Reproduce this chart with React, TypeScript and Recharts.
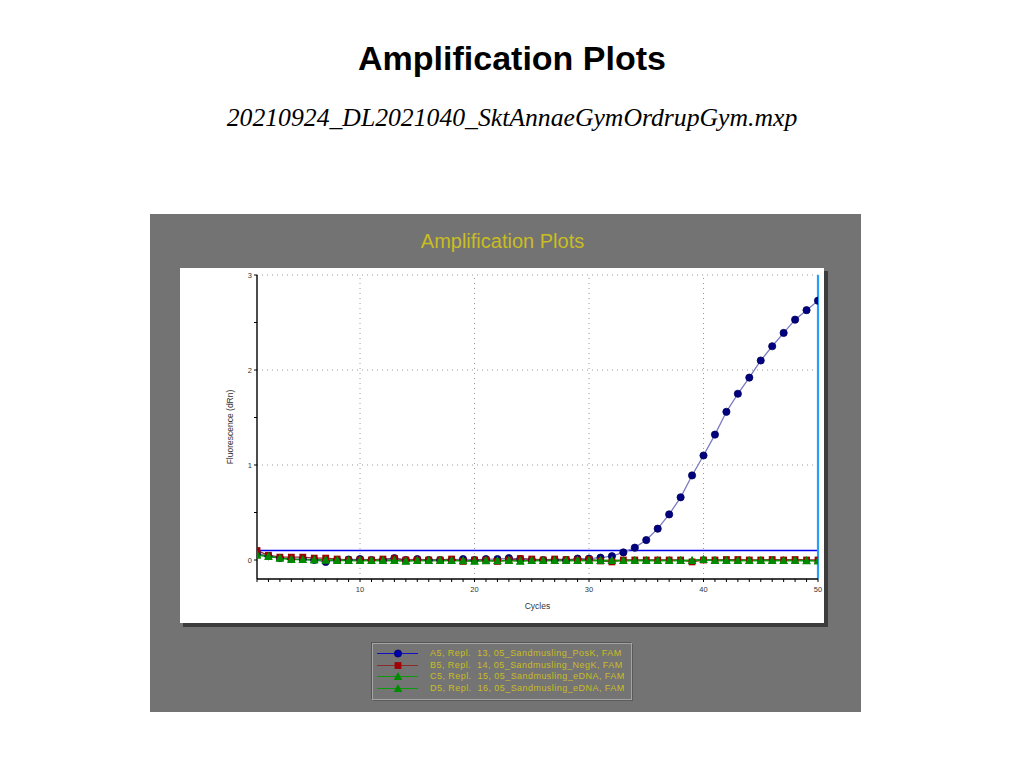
import React from "react";
import { LineChart, Line, XAxis, YAxis, ReferenceLine } from "recharts";

// Amplification plot: ΔRn per cycle for four wells

const cycles = [
  1, 2, 3, 4, 5, 6, 7, 8, 9, 10, 11, 12, 13, 14, 15, 16, 17, 18, 19, 20, 21, 22, 23, 24, 25,
  26, 27, 28, 29, 30, 31, 32, 33, 34, 35, 36, 37, 38, 39, 40, 41, 42, 43, 44, 45, 46, 47, 48, 49, 50,
];

const a5PosK = [
  0.07, 0.04, 0.02, 0.01, 0.01, 0.0, -0.02, 0.0, 0.005, 0.01, 0.0, 0.0, 0.02, 0.0, 0.01, 0.0, 0.0,
  0.0, 0.01, 0.0, 0.01, 0.01, 0.02, 0.01, 0.0, 0.0, 0.0, 0.0, 0.015, 0.015, 0.025, 0.04, 0.08, 0.13,
  0.21, 0.33, 0.48, 0.66, 0.89, 1.1, 1.32, 1.56, 1.75, 1.92, 2.1, 2.25, 2.39, 2.53, 2.63, 2.73,
];

const b5NegK = [
  0.1, 0.05, 0.03, 0.03, 0.03, 0.02, 0.02, 0.01, 0.0, 0.0, 0.0, 0.01, 0.015, 0.0, 0.0, 0.0, 0.0,
  0.01, -0.015, 0.0, 0.0, -0.015, 0.0, 0.015, 0.01, 0.0, 0.01, 0.005, 0.0, 0.005, -0.01, -0.02, 0.0,
  0.0, 0.0, 0.0, 0.0, 0.0, -0.02, 0.0, 0.0, 0.005, 0.005, 0.0, 0.0, 0.005, 0.0, 0.005, 0.0, 0.0,
];

const c5Edna = [
  0.06, 0.04, 0.02, 0.005, 0.005, 0.005, 0.0, 0.0, -0.005, -0.005, -0.005, -0.005, -0.005, -0.015,
  -0.005, -0.005, -0.005, -0.005, -0.01, -0.015, -0.01, -0.01, -0.005, -0.015, -0.005, -0.005,
  -0.005, -0.005, -0.005, -0.005, -0.005, -0.005, -0.005, -0.005, -0.005, -0.005, -0.005, -0.005,
  -0.005, 0.01, -0.005, -0.005, -0.005, -0.005, -0.005, -0.005, -0.005, -0.005, -0.01, -0.01,
];

const d5Edna = [
  0.05, 0.035, 0.02, 0.01, 0.005, 0.0, 0.0, -0.005, -0.005, -0.005, -0.005, -0.005, -0.005, -0.01,
  -0.005, -0.005, -0.005, -0.005, -0.005, -0.01, -0.005, -0.005, -0.005, -0.01, -0.005, -0.005,
  -0.005, -0.005, -0.005, -0.005, -0.005, -0.005, -0.005, -0.005, -0.005, -0.005, -0.005, -0.005,
  -0.005, 0.005, -0.005, -0.005, -0.005, -0.005, -0.005, -0.005, -0.005, -0.005, -0.005, -0.01,
];

const xTicks = cycles;
const xLabelled = [10, 20, 30, 40, 50];
const yTicks = [0, 0.5, 1, 1.5, 2, 2.5, 3];
const yLabelled = [0, 1, 2, 3];
const gridX = [10, 20, 30, 40];
const gridY = [1, 2, 3];
const threshold = 0.1;
const cursorCycle = 50;

const series = [
  { key: "a5", name: "A5, Repl.  13, 05_Sandmusling_PosK, FAM", line: "#7b7bc2", mark: "#000080", shape: "circle" },
  { key: "b5", name: "B5, Repl.  14, 05_Sandmusling_NegK, FAM", line: "#8e2a2a", mark: "#a00000", shape: "square" },
  { key: "c5", name: "C5, Repl.  15, 05_Sandmusling_eDNA, FAM", line: "#0a9a0a", mark: "#008a00", shape: "triangle" },
  { key: "d5", name: "D5, Repl.  16, 05_Sandmusling_eDNA, FAM", line: "#0a9a0a", mark: "#008a00", shape: "triangle" },
];

const data = cycles.map((c, i) => ({
  cycle: c,
  a5: a5PosK[i],
  b5: b5NegK[i],
  c5: c5Edna[i],
  d5: d5Edna[i],
}));

const YELLOW = "#c9bd22";
const SANS = "'Liberation Sans', Arial, sans-serif";

function Marker({ shape, color, cx, cy }: { shape: string; color: string; cx: number; cy: number }) {
  if (shape === "circle") return <circle cx={cx} cy={cy} r={3.6} fill={color} stroke="#00005a" strokeWidth={0.8} />;
  if (shape === "square") return <rect x={cx - 3.4} y={cy - 3.4} width={6.8} height={6.8} fill={color} />;
  return <polygon points={`${cx},${cy - 4.4} ${cx + 4.2},${cy + 3.4} ${cx - 4.2},${cy + 3.4}`} fill={color} />;
}

const makeDot = (shape: string, color: string) => (p: any) => {
  if (p.cx == null || p.cy == null) return <g key={p.key} />;
  return (
    <g key={p.key}>
      <Marker shape={shape} color={color} cx={p.cx} cy={p.cy} />
    </g>
  );
};

const XTick = (p: any) => {
  const v = p.payload.value;
  if (!xLabelled.includes(v)) return <g />;
  return (
    <text x={p.x} y={p.y + 8} textAnchor="middle" fontSize={7.5} fill="#333" fontFamily={SANS}>
      {v}
    </text>
  );
};

const YTick = (p: any) => {
  const v = p.payload.value;
  if (!yLabelled.includes(v)) return <g />;
  return (
    <text x={p.x} y={p.y + 2.5} textAnchor="end" fontSize={7.5} fill="#333" fontFamily={SANS}>
      {v}
    </text>
  );
};

function LegendBox() {
  return (
    <div
      style={{
        position: "absolute",
        left: 372,
        top: 643,
        width: 258,
        height: 55,
        background: "#747474",
        border: "1px solid #a4a4a4",
        boxShadow: "-1px -1px 0 #555, 1px 1px 0 #5a5a5a",
        fontFamily: SANS,
      }}
    >
      {series.map((s, i) => (
        <div key={s.key} style={{ position: "absolute", left: 0, top: 4 + i * 11.6, height: 11, width: 258 }}>
          <svg width={46} height={11} style={{ position: "absolute", left: 3, top: 0 }}>
            <line x1={1} y1={5.5} x2={42} y2={5.5} stroke={s.shape === "circle" ? "#1010c0" : s.line} strokeWidth={1.2} />
            <Marker shape={s.shape} color={s.shape === "circle" ? "#0000b0" : s.mark} cx={22} cy={5.5} />
          </svg>
          <span
            style={{
              position: "absolute",
              left: 57,
              top: 0,
              fontSize: 9,
              lineHeight: "11px",
              color: YELLOW,
              whiteSpace: "pre",
              letterSpacing: 0.45,
            }}
          >
            {s.name}
          </span>
        </div>
      ))}
    </div>
  );
}

export default function App() {
  return (
    <div style={{ position: "absolute", left: 0, top: 0, width: 1024, height: 768, background: "#fff" }}>
      <div
        style={{
          position: "absolute",
          left: 0,
          width: 1024,
          top: 38,
          textAlign: "center",
          fontFamily: SANS,
          fontWeight: "bold",
          fontSize: 34,
          lineHeight: "40px",
          color: "#000",
        }}
      >
        Amplification Plots
      </div>
      <div
        style={{
          position: "absolute",
          left: 0,
          width: 1024,
          top: 103,
          textAlign: "center",
          fontFamily: "'Liberation Serif', 'Times New Roman', serif",
          fontStyle: "italic",
          fontSize: 25.7,
          color: "#000",
        }}
      >
        20210924_DL2021040_SktAnnaeGymOrdrupGym.mxp
      </div>

      {/* instrument panel */}
      <div style={{ position: "absolute", left: 150, top: 214, width: 711, height: 498, background: "#737373" }} />
      <div
        style={{
          position: "absolute",
          left: 150,
          width: 711,
          top: 229,
          textAlign: "center",
          fontFamily: SANS,
          fontSize: 20,
          lineHeight: "24px",
          color: YELLOW,
          marginLeft: -3,
        }}
      >
        Amplification Plots
      </div>
      <div style={{ position: "absolute", left: 183, top: 271, width: 645, height: 356, background: "#3c3c3c" }} />
      <div style={{ position: "absolute", left: 180, top: 268, width: 644, height: 355, background: "#fff" }} />

      <div style={{ position: "absolute", left: 180, top: 268 }}>
        <LineChart width={648} height={357} data={data} margin={{ top: 7, right: 10, bottom: 0, left: 0 }}>
          <XAxis
            dataKey="cycle"
            type="number"
            domain={[1, 50]}
            ticks={xTicks}
            interval={0}
            tick={XTick}
            tickSize={3}
            axisLine={{ stroke: "#000", strokeWidth: 1.4 }}
            tickLine={{ stroke: "#000" }}
            height={46}
            allowDataOverflow
            label={{
              value: "Cycles",
              position: "insideBottom",
              offset: 16,
              style: { fontSize: 8.5, fill: "#333", fontFamily: SANS },
            }}
          />
          <YAxis
            type="number"
            domain={[-0.2, 3]}
            ticks={yTicks}
            interval={0}
            tick={YTick}
            tickSize={3}
            width={77}
            axisLine={{ stroke: "#000", strokeWidth: 1.4 }}
            tickLine={{ stroke: "#000" }}
            allowDataOverflow
            label={{
              value: "Fluorescence (dRn)",
              angle: -90,
              position: "insideLeft",
              offset: 50,
              style: { fontSize: 8.5, fill: "#333", fontFamily: SANS, textAnchor: "middle" },
            }}
          />
          {gridX.map((v) => (
            <ReferenceLine key={`gx${v}`} x={v} stroke="#9a9a9a" strokeDasharray="1 4" />
          ))}
          {gridY.map((v) => (
            <ReferenceLine key={`gy${v}`} y={v} stroke="#9a9a9a" strokeDasharray="1 4" />
          ))}
          <ReferenceLine y={threshold} stroke="#0000ee" strokeWidth={1.6} />
          <ReferenceLine x={cursorCycle} stroke="#2a9ef0" strokeWidth={2.2} />
          {series.map((s) => (
            <Line
              key={s.key}
              dataKey={s.key}
              name={s.name}
              type="linear"
              stroke={s.line}
              strokeWidth={1.3}
              dot={makeDot(s.shape, s.mark)}
              activeDot={false}
              isAnimationActive={false}
            />
          ))}
        </LineChart>
      </div>

      <LegendBox />
    </div>
  );
}
